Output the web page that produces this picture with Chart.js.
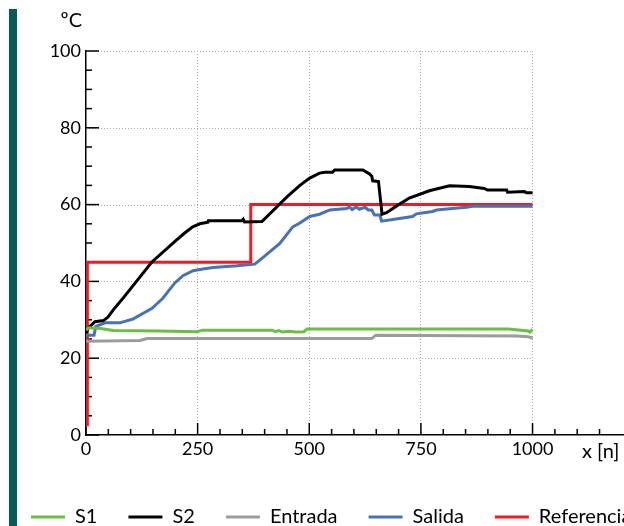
<!DOCTYPE html>
<html>
<head>
<meta charset="utf-8">
<script src="https://cdn.jsdelivr.net/npm/chart.js@4.4.1/dist/chart.umd.min.js"></script>
<style>
  html, body { margin: 0; padding: 0; background: #fff; overflow: hidden; }
  #bar { position: absolute; left: 9px; top: 9px; width: 8px; height: 520px; background: #045c56; }
  #wrap { position: absolute; left: 0; top: 0; width: 700px; height: 537px; }
</style>
</head>
<body>
<div id="bar"></div>
<div id="wrap"><canvas id="chart"></canvas></div>
<script>
// ── DATA ──
const seriesNames = ['S1', 'S2', 'Entrada', 'Salida', 'Referencia'];
const seriesColors = ['#6cbd45', '#000000', '#9b9b9b', '#4a72b2', '#ed1c24'];

const s1X = [0, 5, 29, 61, 166, 248, 262, 418, 424, 432, 440, 455, 470, 488, 495, 946, 990, 994, 1000];
const s1Y = [27.3, 27.9, 27.8, 27.2, 27.1, 26.9, 27.3, 27.3, 26.9, 27.2, 26.8, 27.0, 26.8, 26.9, 27.6, 27.6, 27.1, 26.8, 27.5];

const s2X = [0, 5, 11, 20, 39, 49, 61, 80, 147, 203, 221, 239, 255, 273, 274, 349, 352, 355, 394, 450, 479, 501, 523, 535, 552, 557, 620, 635, 640, 642, 655, 663, 673, 695, 724, 769, 814, 858, 892, 899, 942, 944, 982, 986, 1000];
const s2Y = [26.5, 28, 28.5, 29.5, 29.8, 30.7, 32.6, 35.2, 45, 50.8, 52.6, 54.2, 55, 55.4, 55.8, 55.8, 56.2, 55.5, 55.6, 62, 65, 66.9, 68.2, 68.4, 68.4, 69, 69, 68, 67.4, 66.2, 66, 57.5, 57.9, 59.6, 61.7, 63.6, 64.9, 64.7, 64.2, 63.8, 63.8, 63.2, 63.4, 63.1, 63.1];

const entradaX = [0, 121, 136, 640, 649, 966, 990, 1000];
const entradaY = [24.4, 24.6, 25.1, 25.1, 26, 25.8, 25.6, 25.2];

const salidaX = [0, 18, 22, 43, 76, 87, 105, 148, 172, 199, 217, 240, 255, 284, 338, 378, 394, 434, 463, 479, 501, 523, 546, 584, 590, 596, 605, 612, 625, 632, 640, 646, 658, 662, 702, 731, 740, 776, 785, 814, 852, 870, 1000];
const salidaY = [26, 26, 28.3, 29.2, 29.2, 29.6, 30.2, 33, 35.6, 39.6, 41.5, 42.8, 43.1, 43.6, 44.05, 44.5, 46, 49.9, 54.2, 55.2, 56.9, 57.5, 58.6, 59, 59.4, 58.7, 59.4, 58.8, 59.3, 58.6, 58.6, 57.3, 57.3, 55.7, 56.4, 56.9, 57.6, 58.2, 58.6, 58.9, 59.3, 59.6, 59.6];

const refX = [3, 3, 369, 369, 1000];
const refY = [2.3, 45, 45, 60, 60];

const xTicks = [0, 50, 100, 150, 200, 250, 300, 350, 400, 450, 500, 550, 600, 650, 700, 750, 800, 850, 900, 950, 1000, 1050, 1100, 1150];
const xLabels = [0, 250, 500, 750, 1000];
const yTicks = [0, 5, 10, 15, 20, 25, 30, 35, 40, 45, 50, 55, 60, 65, 70, 75, 80, 85, 90, 95, 100];
const yLabels = [0, 20, 40, 60, 80, 100];
const yGrid = [20, 40, 60, 80, 100];

const zip = (xs, ys) => xs.map((x, i) => ({ x, y: ys[i] }));
const seriesData = [zip(s1X, s1Y), zip(s2X, s2Y), zip(entradaX, entradaY), zip(salidaX, salidaY), zip(refX, refY)];

Chart.defaults.font.family = 'Lato, "Open Sans", sans-serif';
Chart.defaults.color = '#000';

// ── GRID, TICKS AND AXIS TEXT ──
const axisExtras = {
  id: 'axisExtras',
  beforeDatasetsDraw(chart) {
    const { ctx, scales: { x, y } } = chart;
    ctx.save();
    // dotted horizontal grid, only up to x = 1000
    ctx.strokeStyle = '#aaaaaa';
    ctx.lineWidth = 1;
    ctx.setLineDash([1, 2]);
    yGrid.forEach(v => {
      const py = Math.round(y.getPixelForValue(v)) + 0.5;
      ctx.beginPath();
      ctx.moveTo(x.getPixelForValue(0), py);
      ctx.lineTo(x.getPixelForValue(1000), py);
      ctx.stroke();
    });
    // inward tick marks
    ctx.setLineDash([]);
    ctx.strokeStyle = '#000';
    ctx.lineWidth = 1.5;
    const axisY = y.getPixelForValue(0);
    const axisX = x.getPixelForValue(0);
    xTicks.forEach(v => {
      const px = x.getPixelForValue(v);
      const len = v % 250 === 0 ? 12 : 6;
      ctx.beginPath();
      ctx.moveTo(px, axisY);
      ctx.lineTo(px, axisY - len);
      ctx.stroke();
    });
    yTicks.forEach(v => {
      const py = y.getPixelForValue(v);
      const len = v % 20 === 0 ? 13 : 6;
      ctx.beginPath();
      ctx.moveTo(axisX, py);
      ctx.lineTo(axisX + len, py);
      ctx.stroke();
    });
    ctx.restore();
  },
  afterDraw(chart) {
    const { ctx, scales: { x, y } } = chart;
    ctx.save();
    ctx.fillStyle = '#000';
    ctx.font = '20px Lato, sans-serif';
    ctx.textAlign = 'right';
    ctx.textBaseline = 'alphabetic';
    ctx.fillText('ºC', x.getPixelForValue(0) - 4, 27);
    ctx.textAlign = 'left';
    ctx.fillText('x [n]', 582, y.getPixelForValue(0) + 23);
    ctx.restore();
  }
};

new Chart(document.getElementById('chart'), {
  type: 'line',
  data: {
    datasets: seriesNames.map((name, i) => ({
      label: name,
      data: seriesData[i],
      borderColor: seriesColors[i],
      backgroundColor: seriesColors[i],
      borderWidth: 3,
      pointRadius: 0,
      tension: 0,
      fill: false,
    }))
  },
  options: {
    responsive: true,
    maintainAspectRatio: false,
    animation: false,
    events: [],
    layout: { padding: { top: 51, left: 0, right: 0, bottom: 0 } },
    plugins: {
      tooltip: { enabled: false },
      legend: {
        position: 'bottom',
        align: 'start',
        labels: {
          boxWidth: 34,
          boxHeight: 3,
          padding: 31,
          color: '#000',
          font: { size: 20 },
          generateLabels: chart => Chart.defaults.plugins.legend.labels.generateLabels(chart)
            .map(item => ({ ...item, lineWidth: 0 }))
        }
      }
    },
    scales: {
      x: {
        type: 'linear',
        min: 0,
        max: 1375,
        afterBuildTicks: scale => { scale.ticks = xTicks.map(v => ({ value: v })); },
        afterFit: scale => { scale.height = 41; },
        ticks: {
          autoSkip: false,
          maxRotation: 0,
          padding: 3,
          font: { size: 18 },
          callback: v => xLabels.includes(v) ? String(v) : ''
        },
        grid: {
          drawTicks: false,
          lineWidth: 1,
          color: c => (c.tick && c.tick.value > 0 && c.tick.value <= 1000 && c.tick.value % 250 === 0) ? '#aaaaaa' : 'rgba(0,0,0,0)'
        },
        border: { display: true, color: '#000', width: 1.5, dash: [1, 2] }
      },
      y: {
        min: 0,
        max: 100,
        afterBuildTicks: scale => { scale.ticks = yTicks.map(v => ({ value: v })); },
        afterFit: scale => { scale.width = 86; },
        ticks: {
          autoSkip: false,
          padding: 5,
          font: { size: 18 },
          callback: v => yLabels.includes(v) ? String(v) : ''
        },
        grid: { display: false, drawTicks: false },
        border: { display: true, color: '#000', width: 1.5 }
      }
    }
  },
  plugins: [axisExtras]
});
</script>
</body>
</html>
